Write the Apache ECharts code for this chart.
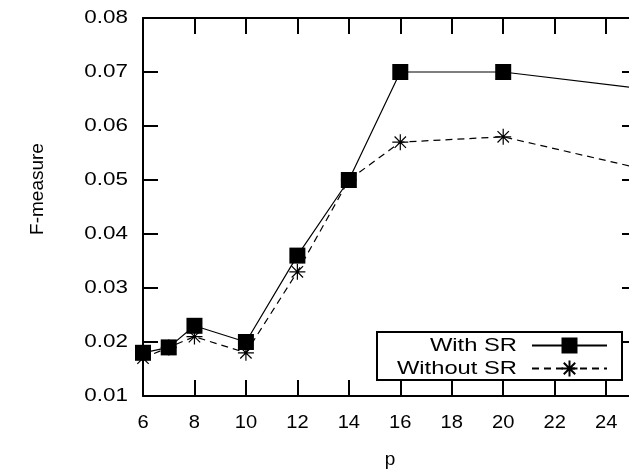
<!DOCTYPE html>
<html>
<head>
<meta charset="utf-8">
<script src="https://cdn.jsdelivr.net/npm/echarts@6/dist/echarts.min.js"></script>
<style>html,body{margin:0;padding:0;background:#fff}#c{width:629px;height:470px}</style>
</head>
<body>
<div id="c"></div>
<script>
var p = [6, 7, 8, 10, 12, 14, 16, 20, 30];
var withSR = [0.018, 0.019, 0.023, 0.020, 0.036, 0.050, 0.070, 0.070, 0.0643];
var withoutSR = [0.017, 0.019, 0.021, 0.018, 0.033, 0.050, 0.057, 0.058, 0.047];
var yTicks = [0.01, 0.02, 0.03, 0.04, 0.05, 0.06, 0.07, 0.08];
var xTicks = [6, 8, 10, 12, 14, 16, 18, 20, 22, 24];

// The reference glyphs are horizontally wide; emulate by stretching text about its anchor.
(function () {
  var proto = CanvasRenderingContext2D.prototype;
  function k(t) {
    t = String(t);
    if (/SR/.test(t)) return 1.25;
    if (t.indexOf('.') >= 0) return 1.18;
    if (/^\d+$/.test(t)) return 1.06;
    return 1;
  }
  var fill = proto.fillText, meas = proto.measureText;
  proto.fillText = function (t, x, y) {
    var s = k(t);
    if (s === 1) return fill.apply(this, arguments);
    this.save(); this.translate(x, y); this.scale(s, 1);
    fill.call(this, t, 0, 0);
    this.restore();
  };
  proto.measureText = function (t) {
    var m = meas.call(this, t), s = k(t);
    if (s === 1) return m;
    return {
      width: m.width * s,
      actualBoundingBoxAscent: m.actualBoundingBoxAscent,
      actualBoundingBoxDescent: m.actualBoundingBoxDescent,
      actualBoundingBoxLeft: m.actualBoundingBoxLeft * s,
      actualBoundingBoxRight: m.actualBoundingBoxRight * s,
      fontBoundingBoxAscent: m.fontBoundingBoxAscent,
      fontBoundingBoxDescent: m.fontBoundingBoxDescent
    };
  };
})();

var FONT = 'Liberation Sans';
var FS = 19;
var star = 'path://M0,8L16,8M8,0L8,16M2.3,2.3L13.7,13.7M13.7,2.3L2.3,13.7';

function pairs(xs, ys) { return xs.map(function (x, i) { return [x, ys[i]]; }); }

var chart = echarts.init(document.getElementById('c'), null, { renderer: 'canvas' });
var axisLineStyle = { color: '#000', width: 2 };
var tickStyle = { color: '#000', width: 2 };
chart.setOption({
  animation: false,
  backgroundColor: '#fff',
  grid: { left: 143, right: -8, top: 18, bottom: 74, containLabel: false, outerBoundsMode: 'none' },
  xAxis: [{
    type: 'value', min: 6, max: 25.2, interval: 2, position: 'bottom',
    name: 'p', nameLocation: 'middle', nameGap: 54,
    nameTextStyle: { fontFamily: FONT, fontSize: FS, color: '#000' },
    axisLine: { show: true, lineStyle: axisLineStyle },
    axisTick: { show: true, inside: true, length: 16, lineStyle: tickStyle },
    axisLabel: { show: true, showMaxLabel: false, fontFamily: FONT, fontSize: FS, color: '#000', margin: 17 },
    splitLine: { show: false }
  }, {
    type: 'value', min: 6, max: 25.2, interval: 2, position: 'top',
    axisLine: { show: true, onZero: false, lineStyle: axisLineStyle },
    axisTick: { show: true, inside: true, length: 16, lineStyle: tickStyle },
    axisLabel: { show: false },
    splitLine: { show: false }
  }],
  yAxis: [{
    type: 'value', min: 0.01, max: 0.08, interval: 0.01, position: 'left',
    axisLine: { show: true, onZero: false, lineStyle: axisLineStyle },
    axisTick: { show: true, inside: true, length: 15, lineStyle: tickStyle },
    axisLabel: { show: true, fontFamily: FONT, fontSize: FS, color: '#000', margin: 15,
      formatter: function (v) { return v.toFixed(2); } },
    splitLine: { show: false }
  }, {
    type: 'value', min: 0.01, max: 0.08, interval: 0.01, position: 'right',
    axisLine: { show: true, onZero: false, lineStyle: axisLineStyle },
    axisTick: { show: true, inside: true, length: 15, lineStyle: tickStyle },
    axisLabel: { show: false },
    splitLine: { show: false }
  }],
  legend: [{
    data: ['With SR'], orient: 'vertical', align: 'right', right: 21, top: 336, padding: 0,
    itemWidth: 75, itemHeight: 20, selectedMode: false,
    textStyle: { fontFamily: FONT, fontSize: FS, color: '#000', padding: [0, 10, 0, 0] }
  }, {
    data: ['Without SR'], orient: 'vertical', align: 'right', right: 21, top: 359, padding: 0,
    itemWidth: 75, itemHeight: 20, selectedMode: false,
    textStyle: { fontFamily: FONT, fontSize: FS, color: '#000', padding: [0, 10, 0, 0] }
  }],
  graphic: [{
    type: 'rect', z: 3, shape: { x: 377, y: 332, width: 245, height: 48 },
    style: { fill: '#fff', stroke: '#000', lineWidth: 2 }
  }, {
    type: 'text', z: 3, x: 38, y: 189, rotation: Math.PI / 2,
    style: { text: 'F-measure', fontFamily: FONT, fontSize: FS, fill: '#000', align: 'center', verticalAlign: 'middle' }
  }],
  series: [{
    name: 'With SR', type: 'line', data: pairs(p, withSR),
    symbol: 'rect', symbolSize: 16, showAllSymbol: true, clip: true,
    lineStyle: { color: '#000', width: 1.2, type: 'solid' },
    itemStyle: { color: '#000' },
    emphasis: { disabled: true }
  }, {
    name: 'Without SR', type: 'line', data: pairs(p, withoutSR),
    symbol: star, symbolSize: 16, showAllSymbol: true, clip: true,
    lineStyle: { color: '#000', width: 1.2, type: [7, 5] },
    itemStyle: { color: 'transparent', borderColor: '#000', borderWidth: 1.2 },
    emphasis: { disabled: true }
  }]
});
</script>
</body>
</html>
